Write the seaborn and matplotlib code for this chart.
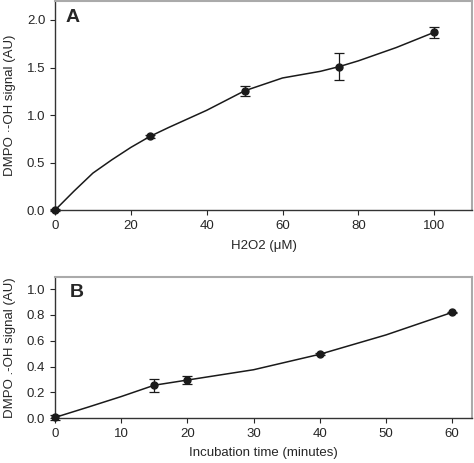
import numpy as np
import matplotlib
matplotlib.use("Agg")
import matplotlib.pyplot as plt
import seaborn as sns
import pandas as pd

# Panel A: H2O2 dose response
h2o2 = [0, 25, 50, 75, 100]
signal_a = [0.0, 0.775, 1.255, 1.51, 1.87]
err_a = [0.01, 0.02, 0.05, 0.14, 0.06]
# smoothed curve
curve_a_x = [0, 5, 10, 15, 20, 25, 30, 40, 50, 60, 70, 75, 80, 90, 100]
curve_a_y = [0.0, 0.2, 0.39, 0.53, 0.66, 0.775, 0.87, 1.05, 1.255, 1.39, 1.46, 1.51, 1.57, 1.71, 1.87]

# Panel B: incubation time course
minutes = [0, 15, 20, 40, 60]
signal_b = [0.005, 0.255, 0.295, 0.495, 0.82]
err_b = [0.02, 0.05, 0.03, 0.008, 0.005]
curve_b_x = [0, 5, 10, 15, 20, 30, 40, 50, 60]
curve_b_y = [0.005, 0.085, 0.167, 0.255, 0.295, 0.375, 0.495, 0.645, 0.82]

sns.set_style("ticks")
plt.rcParams['font.family'] = ['Liberation Sans', 'DejaVu Sans']
plt.rcParams['font.size'] = 9.5

fig = plt.figure(figsize=(4.74, 4.63), dpi=100)
axA = fig.add_axes([0.116, 0.546, 0.88, 0.452])
axB = fig.add_axes([0.116, 0.097, 0.88, 0.305])


def draw_panel(ax, cx, cy, x, y, err, letter, lx, ly):
    df = pd.DataFrame({'x': cx, 'y': cy})
    sns.lineplot(data=df, x='x', y='y', ax=ax, color='#1a1a1a', lw=1.1)
    ax.errorbar(x, y, yerr=err, fmt='o', color='#1a1a1a', ms=5,
                capsize=3.5, elinewidth=0.9, capthick=0.9, clip_on=False, zorder=3)
    ax.text(lx, ly, letter, transform=ax.transAxes, fontsize=14,
            fontweight='bold', ha='left', va='center')
    for s in ['top', 'right']:
        ax.spines[s].set_color('#aaaaaa')
        ax.spines[s].set_linewidth(1.5)
    for s in ['left', 'bottom']:
        ax.spines[s].set_color('#333333')
        ax.spines[s].set_linewidth(1.0)
    ax.tick_params(direction='out', length=3.5, width=0.8, labelsize=9.5)


draw_panel(axA, curve_a_x, curve_a_y, h2o2, signal_a, err_a, 'A', 0.025, 0.92)
axA.set_xlim(0, 110)
axA.set_ylim(0, 2.2)
axA.set_xticks([0, 20, 40, 60, 80, 100])
axA.set_yticks([0.0, 0.5, 1.0, 1.5, 2.0])
axA.set_yticklabels(['0.0', '0.5', '1.0', '1.5', '2.0'])
axA.set_xlabel('H2O2 (μM)', fontsize=9.5, labelpad=6)
axA.set_ylabel('DMPO ·-OH signal (AU)', fontsize=9.5, labelpad=8)

draw_panel(axB, curve_b_x, curve_b_y, minutes, signal_b, err_b, 'B', 0.035, 0.89)
axB.set_xlim(0, 63)
axB.set_ylim(0, 1.095)
axB.set_xticks([0, 10, 20, 30, 40, 50, 60])
axB.set_yticks([0.0, 0.2, 0.4, 0.6, 0.8, 1.0])
axB.set_yticklabels(['0.0', '0.2', '0.4', '0.6', '0.8', '1.0'])
axB.set_xlabel('Incubation time (minutes)', fontsize=9.5, labelpad=5)
axB.set_ylabel('DMPO .-OH signal (AU)', fontsize=9.5, labelpad=8)

fig.savefig('out.png', dpi=100)
